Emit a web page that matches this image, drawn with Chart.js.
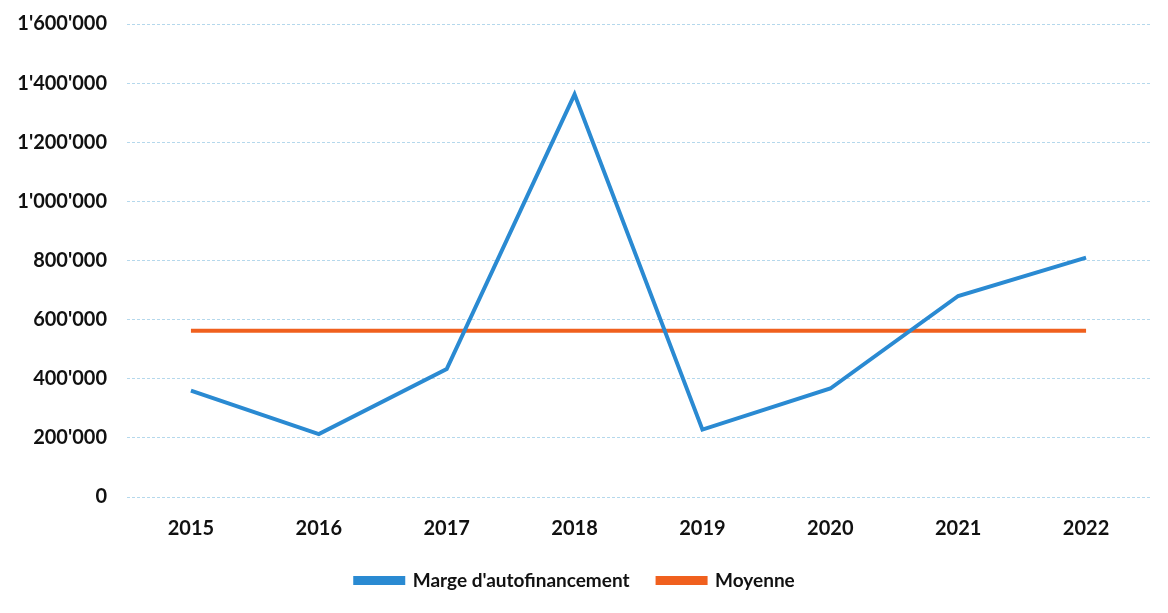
<!DOCTYPE html>
<html>
<head>
<meta charset="utf-8">
<script src="https://cdn.jsdelivr.net/npm/chart.js@4.4.1/dist/chart.umd.min.js"></script>
<style>
html,body{margin:0;padding:0;background:#fff;}
#wrap{width:1168px;height:613px;}
</style>
</head>
<body>
<div id="wrap"><canvas id="c" width="1168" height="613"></canvas></div>
<script>
const categories = ['2015','2016','2017','2018','2019','2020','2021','2022'];
const margeValues = [360000, 213000, 433000, 1362000, 228000, 367000, 680000, 810000];
const moyenneValues = [562000, 562000, 562000, 562000, 562000, 562000, 562000, 562000];
const seriesNames = ["Marge d'autofinancement", 'Moyenne'];
const yTicks = [0, 200000, 400000, 600000, 800000, 1000000, 1200000, 1400000, 1600000];

function fmt(v){
  return String(Math.round(v)).replace(/\B(?=(\d{3})+(?!\d))/g, "'");
}

const blue = '#2a8ad2';
const orange = '#f0601e';
const font = "Lato, 'Open Sans', sans-serif";

new Chart(document.getElementById('c'), {
  type: 'line',
  data: {
    labels: categories,
    datasets: [
      {label: seriesNames[0], data: margeValues, borderColor: blue, backgroundColor: blue, borderWidth: 4, pointRadius: 0, tension: 0},
      {label: seriesNames[1], data: moyenneValues, borderColor: orange, backgroundColor: orange, borderWidth: 4, pointRadius: 0, tension: 0}
    ]
  },
  options: {
    responsive: false,
    animation: false,
    layout: {padding: {top: 24, right: 18, left: 0, bottom: 13}},
    plugins: {
      tooltip: {enabled: false},
      legend: {
        position: 'bottom',
        labels: {
          boxWidth: 48, boxHeight: 5, padding: 28,
          color: '#111',
          font: {family: font, size: 19, weight: 'bold'}
        }
      }
    },
    scales: {
      x: {
        offset: true,
        afterFit: s => { s.height -= 18; },
        grid: {display: false, drawTicks: false},
        border: {display: false},
        ticks: {color: '#111', padding: 20, font: {family: font, size: 20, weight: 'bold'}}
      },
      y: {
        min: 0, max: 1600000,
        afterFit: s => { s.width = 127; s.paddingTop = 0; s.paddingBottom = 0; },
        afterBuildTicks: s => { s.ticks = yTicks.map(v => ({value: v})); },
        grid: {color: '#b5d8ec', lineWidth: 1, drawTicks: false},
        border: {display: false, dash: [3, 2]},
        ticks: {color: '#111', padding: 20, font: {family: font, size: 20, weight: 'bold'}, callback: v => fmt(v)}
      }
    }
  }
});
</script>
</body>
</html>
